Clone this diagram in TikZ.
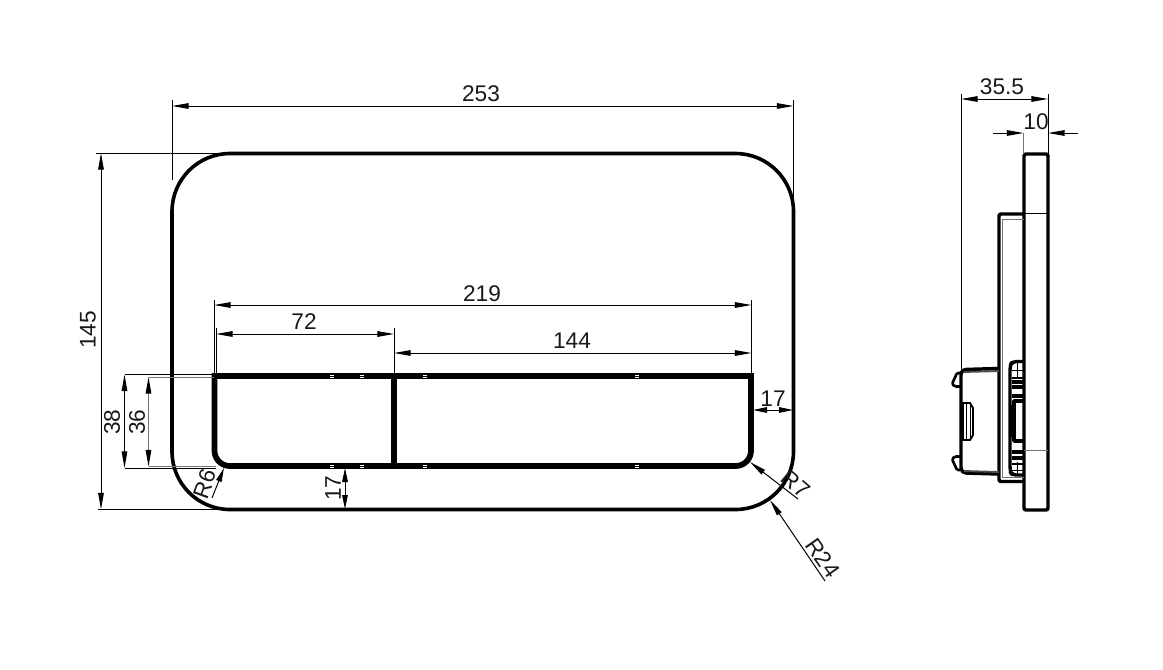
\documentclass[tikz,border=0pt]{standalone}
\usepackage{fontspec}
\setmainfont{Liberation Sans}
\usetikzlibrary{arrows.meta}
\tikzset{
 x=0.75pt,y=-0.75pt,
 tipa/.tip={Stealth[inset=0pt,length=12.5pt,width=4.2pt,color=black]},
 tipb/.tip={Stealth[inset=0pt,length=10.5pt,width=4.2pt,color=black]},
 thin line/.style={line width=0.75pt,black},
 gray line/.style={line width=0.75pt,black!55},
 dim/.style={thin line,{tipa}-{tipa}},
 shortdim/.style={thin line,{tipb}-{tipb}},
 outerline/.style={line width=2.7pt,black},
 innerline/.style={line width=4.3pt,black},
 sideline/.style={line width=2.6pt,black,line join=round},
 med/.style={line width=1.4pt,black},
 lab/.style={inner sep=0pt,font=\fontsize{17pt}{19pt}\selectfont,text=black!90},
 tick/.style={line width=0.5pt,white},
}
\begin{document}
\begin{tikzpicture}
\useasboundingbox (0,0) rectangle (1163,669);
% front view
\draw[outerline,rounded corners=43.5pt] (172,153.5) rectangle (793.5,509.5);
\draw[innerline] (214.5,376) [rounded corners=11.5pt] -- (214.5,466) -- (751,466) [sharp corners] -- (751,376) -- cycle;
\draw[line width=4.3pt] (394,376) -- (394,466);
\foreach \x in {332,362,425,637}{
 \draw[tick] (\x-2,375) -- (\x+2,375);
 \draw[tick] (\x-2,377) -- (\x+2,377);
 \draw[tick] (\x-2,465) -- (\x+2,465);
 \draw[tick] (\x-2,467) -- (\x+2,467);
}
% extension lines
\draw[thin line] (172,100) -- (172,180);
\draw[thin line] (793.5,100) -- (793.5,212);
\draw[thin line] (96,153) -- (230,153);
\draw[thin line] (98,509.5) -- (230,509.5);
\draw[thin line] (214,300) -- (214,376);
\draw[thin line] (751.5,300) -- (751.5,376);
\draw[thin line] (216.5,328) -- (216.5,376);
\draw[thin line] (394,328) -- (394,376);
\draw[thin line] (124.5,374.5) -- (214,374.5);
\draw[thin line] (124.5,468) -- (216,468);
\draw[gray line] (148.5,377) -- (214,377);
\draw[gray line] (148.5,466.5) -- (216,466.5);
% dimensions
\draw[dim] (172,106) -- (793.5,106);
\node[lab] (d253) at (481,94) {253};
\draw[dim] (101,153) -- (101,509.5);
\node[lab,rotate=90] (d145) at (88,330) {145};
\draw[dim] (214,305) -- (751.5,305);
\node[lab] (d219) at (482,294) {219};
\draw[dim] (216,334) -- (394,334);
\node[lab] (d72) at (304,322) {72};
\draw[dim] (394,353) -- (751.5,353);
\node[lab] (d144) at (572,341) {144};
\draw[dim] (124.5,374.5) -- (124.5,468);
\node[lab,rotate=90] (d38) at (112,422) {38};
\draw[gray line,{tipa}-{tipa}] (148.5,377) -- (148.5,466.5);
\node[lab,rotate=90] (d36) at (137,422) {36};
\draw[shortdim] (345,468) -- (345,509);
\node[lab,rotate=90] (d17a) at (333,488) {17};
\draw[shortdim] (753,410) -- (793,410);
\node[lab] (d17b) at (773,399) {17};
% radii
\draw[thin line,-{tipb}] (212,498) -- (224,468);
\node[lab,rotate=70] (r6) at (205,484) {R6};
\draw[thin line,{tipa}-] (750,462) -- (798,499);
\node[lab,rotate=-40] (r7) at (796,484) {R7};
\draw[thin line,{tipa}-] (770,500) -- (825,581);
\node[lab,rotate=-55] (r24) at (823,558) {R24};
% side view
\draw[sideline,rounded corners=1.5pt] (1024,154) rectangle (1048,510);
\draw[thin line] (1024,213) -- (1048,213);
\draw[gray line] (1024,450) -- (1048,450);
\draw[sideline,rounded corners=1.5pt] (1024,214) -- (999,214) -- (999,481.5) -- (1024,481.5);
\draw[gray line] (1002,219) -- (1002,477) -- (1024,477);
\draw[gray line] (1002,219) -- (1024,219);
% lower box
\draw[sideline,rounded corners=2pt] (999,368.5) -- (964,369.5) -- (961,372) -- (961,470) -- (964,473) -- (999,474);
\draw[med,black!70] (964,372) -- (999,371);
\draw[med,black!70] (964,471) -- (999,472);
% clips
\draw[sideline,line width=2pt,rounded corners=1pt] (960,373) -- (957,373) -- (952,384) -- (955,386.5) -- (961,386.5);
\draw[sideline,line width=2pt,rounded corners=1pt] (960,470) -- (957,470) -- (952,459) -- (955,456.5) -- (961,456.5);
\draw[sideline,line width=2.2pt] (963,404) -- (963,439);
\draw[med] (962,403) -- (970,403) -- (973,408) -- (973,435) -- (970,440) -- (962,440);
\draw[thin line] (966,404) -- (966,439);
\draw[thin line] (970,404) -- (970,439);
% right-hand ribs
\draw[sideline,rounded corners=3pt] (1023,361.5) -- (1012,361.5) -- (1010,366) -- (1010,471) -- (1012,475) -- (1023,475);
\draw[sideline] (1012,382) -- (1023,382);
\draw[sideline] (1012,387) -- (1023,387);
\draw[med] (1012,378) -- (1023,378);
\draw[thin line] (1012,370) -- (1023,370);
\draw[thin line] (1017,362) -- (1017,378);
\draw[sideline] (1012,396) -- (1023,396);
\draw[sideline] (1012,458) -- (1023,458);
\draw[med] (1012,464) -- (1023,464);
\draw[sideline] (1012,452) -- (1023,452);
\draw[thin line] (1012,470) -- (1023,470);
\draw[thin line] (1017,462) -- (1017,475);
\draw[sideline] (1023,401) -- (1014,401) -- (1014,441) -- (1023,441);
\draw[med] (1011,405) -- (1011,437);
% side dimensions
\draw[thin line] (961,94) -- (961,369);
\draw[thin line] (1048,94) -- (1048,154);
\draw[gray line] (1023.5,133) -- (1023.5,154);
\draw[dim] (961,99) -- (1048,99);
\node[lab] (d355) at (1002,87) {35.5};
\draw[thin line,-{tipa}] (993,133) -- (1023.5,133);
\draw[thin line,-{tipa}] (1078,133) -- (1048,133);
\node[lab] (d10) at (1036,122) {10};
\end{tikzpicture}
\end{document}
